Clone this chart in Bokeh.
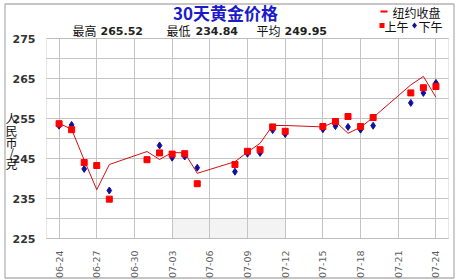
import math
import pandas as pd
from bokeh.plotting import figure
from bokeh.models import Range1d, FixedTicker, Label, BoxAnnotation, PolyAnnotation, LinearAxis
from bokeh.embed import file_html
from bokeh.resources import INLINE

# ---------------- data ----------------
YEAR = "2013-"
START = "06-24"

close_dates = ["06-24", "06-25", "06-26", "06-27", "06-28", "07-01", "07-02", "07-03",
               "07-04", "07-05", "07-08", "07-09", "07-10", "07-11", "07-12", "07-15",
               "07-16", "07-17", "07-18", "07-19", "07-22", "07-23", "07-24"]
close_vals = [253.8, 252.3, 244.6, 237.2, 243.5, 246.75, 244.75, 246.5,
              246.4, 241.3, 244.2, 246.6, 248.8, 253.25, 253.25, 252.9,
              254.25, 251.3, 252.8, 255.25, 263.4, 265.52, 260.3]

am_dates = ["06-24", "06-25", "06-26", "06-27", "06-28", "07-01", "07-02", "07-03",
            "07-04", "07-05", "07-08", "07-09", "07-10", "07-11", "07-12", "07-15",
            "07-16", "07-17", "07-18", "07-19", "07-22", "07-23", "07-24"]
am_vals = [253.7, 252.2, 244.0, 243.25, 234.84, 244.7, 246.4, 246.1,
           246.2, 238.7, 243.5, 246.8, 247.2, 252.9, 251.8, 253.0,
           254.25, 255.5, 253.0, 255.25, 261.4, 262.7, 263.0]

pm_dates = ["06-24", "06-25", "06-26", "06-28", "07-02", "07-03",
            "07-04", "07-05", "07-08", "07-09", "07-10", "07-11", "07-12", "07-15",
            "07-16", "07-17", "07-18", "07-19", "07-22", "07-23", "07-24"]
pm_vals = [253.2, 253.4, 242.4, 237.0, 248.25, 245.2,
           245.5, 242.7, 241.7, 246.2, 246.4, 252.1, 251.1, 252.3,
           253.1, 252.9, 252.2, 253.2, 258.9, 261.4, 263.9]

tick_labels = ["06-24", "06-27", "06-30", "07-03", "07-06", "07-09",
               "07-12", "07-15", "07-18", "07-21", "07-24"]

title_text = "30天黄金价格"
stat_names = ["最高", "最低", "平均"]
stat_vals = ["265.52", "234.84", "249.95"]
legend_texts = ["纽约收盘", "上午", "下午"]
y_title = "人民币/克"
y_ticks = [225, 235, 245, 255, 265, 275]
grid_ticks = [225, 230, 235, 240, 245, 250, 255, 260, 265, 270, 275]
band_dates = ["07-03", "07-12"]
band_vals = [225, 230]

# ---------------- helpers ----------------
start = pd.Timestamp(YEAR + START)


def day(d):
    return (pd.Timestamp(YEAR + d) - start).days


cx = [day(d) for d in close_dates]
ax = [day(d) for d in am_dates]
bx = [day(d) for d in pm_dates]
tick_pos = [day(d) for d in tick_labels]

W, H = 459, 280
FL, FR, FT, FB = 46, 448, 38, 238          # plot area in pixels
X0, X1 = -1.0, 31.0                          # plot area in data units
Y0, Y1 = 225.0, 275.0


def dx(px):
    return X0 + (px - FL) * (X1 - X0) / (FR - FL)


def dy(py):
    return Y1 - (py - FT) * (Y1 - Y0) / (FB - FT)


CJK = "Noto Sans CJK SC"

p = figure(width=W, height=H, title=None, toolbar_location=None, output_backend="svg",
           x_range=Range1d(dx(0), dx(W)), y_range=Range1d(dy(H), dy(0)),
           x_axis_location=None, y_axis_location=None, min_border=0)
p.background_fill_color = "white"
p.border_fill_color = "white"
p.outline_line_color = None

# axes, fixed at the plot-area edges
xaxis = LinearAxis(fixed_location=Y0, ticker=FixedTicker(ticks=tick_pos))
xaxis.major_label_overrides = {t: l for t, l in zip(tick_pos, tick_labels)}
xaxis.major_label_orientation = math.pi / 2
xaxis.major_label_text_font = "DejaVu Sans"
xaxis.major_label_text_font_size = "9.5px"
xaxis.major_label_text_color = "#606060"
xaxis.major_label_standoff = 6
yaxis = LinearAxis(fixed_location=X0, ticker=FixedTicker(ticks=y_ticks))
yaxis.major_label_text_font = "DejaVu Sans"
yaxis.major_label_text_font_style = "bold"
yaxis.major_label_text_font_size = "11px"
yaxis.major_label_text_color = "#333333"
yaxis.major_label_standoff = 5
for a in (xaxis, yaxis):
    a.axis_line_color = None
    a.major_tick_line_color = None
    a.minor_tick_line_color = None
p.add_layout(xaxis, "below")
p.add_layout(yaxis, "left")

p.xgrid.ticker = FixedTicker(ticks=tick_pos)
p.ygrid.ticker = FixedTicker(ticks=grid_ticks)
p.xgrid.bounds = (X0, X1)
p.ygrid.bounds = (Y0, Y1)
p.xgrid.cross_bounds = (Y0, Y1)
p.ygrid.cross_bounds = (X0, X1)
for g in (p.xgrid, p.ygrid):
    g.grid_line_color = "#c4c4c4"
    g.grid_line_width = 1

# light band
p.quad(left=[day(band_dates[0])], right=[day(band_dates[1])], bottom=[band_vals[0]], top=[band_vals[1]],
       fill_color="#f3f3f3", line_color=None, level="image")

# plot-area outline
p.add_layout(BoxAnnotation(left=X0, right=X1, bottom=Y0, top=Y1, fill_alpha=0,
                           line_color="#b0b0b0", line_width=1, level="underlay"))

# series
p.line(cx, close_vals, line_color="#d01010", line_width=1)
p.scatter(bx, pm_vals, marker="diamond", size=7, fill_color="#1010a0", line_color="#1010a0")
p.scatter(ax, am_vals, marker="square", size=6, fill_color="#ff0000", line_color="#ff0000")

# outer border
p.add_layout(BoxAnnotation(left=dx(4.5), right=dx(453.5), top=dy(3.5), bottom=dy(277.5),
                           fill_alpha=0, line_color="black", line_width=1.3))

# title & stats
p.add_layout(Label(x=dx(225), y=dy(12), text=title_text, text_align="center", text_baseline="middle",
                   text_font=CJK, text_font_style="bold", text_font_size="17px", text_color="#1a1acc"))
name_px = [72, 166, 256]
val_px = [100, 195, 284]
for nx, vx, n, v in zip(name_px, val_px, stat_names, stat_vals):
    p.add_layout(Label(x=dx(nx), y=dy(30), text=n, text_align="left", text_baseline="middle",
                       text_font=CJK, text_font_size="12px", text_color="#111111"))
    p.add_layout(Label(x=dx(vx), y=dy(30.5), text=v, text_align="left", text_baseline="middle",
                       text_font="DejaVu Sans", text_font_style="bold", text_font_size="11px",
                       text_color="#222222"))

# legend
p.add_layout(BoxAnnotation(left=dx(380), right=dx(387), top=dy(10), bottom=dy(12),
                           fill_color="#ff0000", fill_alpha=1, line_color=None))
p.add_layout(Label(x=dx(392), y=dy(12), text=legend_texts[0], text_align="left", text_baseline="middle",
                   text_font=CJK, text_font_size="12px", text_color="#111111"))
p.add_layout(BoxAnnotation(left=dx(379), right=dx(384), top=dy(22.5), bottom=dy(27.5),
                           fill_color="#ff0000", fill_alpha=1, line_color=None))
p.add_layout(Label(x=dx(384), y=dy(26), text=legend_texts[1], text_align="left", text_baseline="middle",
                   text_font=CJK, text_font_size="12px", text_color="#111111"))
p.add_layout(PolyAnnotation(xs=[dx(414), dx(416.5), dx(414), dx(411.5)], ys=[dy(22), dy(25), dy(28), dy(25)],
                            fill_color="#1010a0", fill_alpha=1, line_color=None))
p.add_layout(Label(x=dx(418), y=dy(26), text=legend_texts[2], text_align="left", text_baseline="middle",
                   text_font=CJK, text_font_size="12px", text_color="#111111"))

# y title, stacked characters (one label per character)
char_py = [117.5, 130, 142, 151.5, 162.5]
for ch, cy in zip(y_title, char_py):
    p.add_layout(Label(x=dx(11), y=dy(cy), text=ch, text_align="center", text_baseline="middle",
                       text_font=CJK, text_font_size="12px", text_color="#111111"))

open("out.html", "w").write(file_html(p, INLINE))
